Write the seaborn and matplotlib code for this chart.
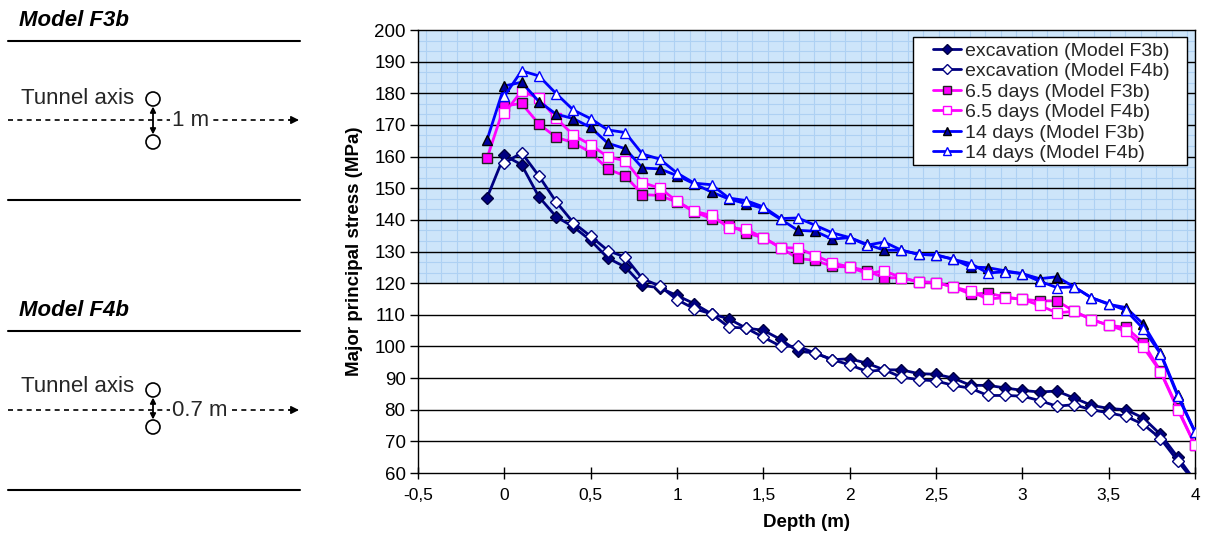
import numpy as np
import pandas as pd
import matplotlib
matplotlib.use("Agg")
import matplotlib.pyplot as plt
import seaborn as sns
from matplotlib import font_manager
from matplotlib.patches import Circle, Rectangle

# ---------------- data ----------------
depth_f3b = [-0.1, 0.0, 0.1, 0.2, 0.3, 0.4, 0.5, 0.6, 0.7, 0.8, 0.9, 1.0, 1.1, 1.2,
             1.3, 1.4, 1.5, 1.6, 1.7, 1.8, 1.9, 2.0, 2.1, 2.2, 2.3, 2.4, 2.5, 2.6,
             2.7, 2.8, 2.9, 3.0, 3.1, 3.2, 3.3, 3.4, 3.5, 3.6, 3.7, 3.8, 3.9, 4.0]
depth_f4b = depth_f3b[1:]

exc_f3b = [147.0, 160.4, 157.4, 147.3, 141.0, 137.8, 133.5, 127.9, 125.1, 119.3,
           118.5, 116.1, 113.5, 110.3, 108.7, 105.8, 105.1, 102.2, 98.5, 97.9,
           95.8, 96.1, 94.7, 92.6, 92.6, 91.4, 91.2, 90.0, 87.7, 87.7, 86.9,
           86.1, 85.6, 85.9, 83.7, 81.4, 80.4, 80.0, 77.4, 72.2, 65.0, 57.5]
exc_f4b = [157.9, 161.2, 153.9, 145.7, 139.1, 134.8, 130.3, 128.2, 121.4, 119.1,
           114.8, 111.9, 110.3, 106.1, 105.8, 102.9, 100.1, 100.0, 97.9, 95.8,
           94.2, 92.1, 92.6, 90.3, 89.5, 89.1, 87.7, 86.8, 84.5, 84.5, 84.3,
           82.9, 81.1, 81.6, 80.0, 79.0, 77.9, 75.4, 70.9, 63.8, 57.0]
d65_f3b = [159.5, 176.0, 176.8, 170.3, 166.1, 164.4, 161.3, 156.0, 153.9, 148.0,
           147.7, 145.6, 142.6, 140.3, 138.5, 135.8, 134.4, 131.2, 127.8, 127.2,
           125.3, 125.1, 123.9, 121.7, 121.7, 120.4, 120.2, 118.8, 116.5, 116.9,
           115.6, 114.9, 114.4, 114.4, 111.1, 108.5, 106.7, 106.0, 101.2, 92.2,
           80.5, 68.8]
d65_f4b = [173.7, 180.7, 178.4, 172.1, 166.8, 163.7, 159.9, 158.7, 151.8, 150.0,
           145.9, 142.7, 141.4, 137.5, 137.0, 134.4, 131.2, 131.1, 128.7, 126.4,
           125.1, 123.0, 123.9, 121.7, 120.4, 120.2, 118.8, 117.4, 115.0, 115.4,
           114.9, 113.0, 110.6, 111.1, 108.5, 106.7, 104.8, 99.8, 92.0, 80.0, 68.8]
d14_f3b = [165.3, 182.3, 183.5, 177.4, 173.4, 172.0, 169.2, 164.2, 162.5, 156.4,
           156.1, 154.0, 151.4, 148.8, 146.6, 145.1, 143.6, 140.2, 136.7, 136.4,
           133.9, 134.4, 132.3, 130.4, 130.4, 129.1, 128.8, 127.6, 125.1, 124.9,
           123.9, 123.0, 121.4, 122.0, 118.8, 115.4, 113.3, 112.3, 107.1, 98.0,
           84.8, 73.0]
d14_f4b = [179.1, 187.1, 185.5, 179.9, 174.7, 172.0, 168.4, 167.6, 160.8, 159.2,
           154.8, 151.6, 151.1, 146.9, 146.1, 144.1, 140.4, 140.6, 138.3, 135.9,
           134.4, 132.0, 133.0, 130.4, 129.1, 129.0, 127.5, 126.2, 123.2, 123.6,
           123.0, 120.6, 118.6, 118.8, 115.4, 113.5, 111.4, 105.6, 97.7, 84.3, 72.9]

labels = ["excavation (Model F3b)", "excavation (Model F4b)",
          "6.5 days (Model F3b)", "6.5 days (Model F4b)",
          "14 days (Model F3b)", "14 days (Model F4b)"]
xticks = [-0.5, 0, 0.5, 1, 1.5, 2, 2.5, 3, 3.5, 4]
xtick_labels = ["-0,5", "0", "0,5", "1", "1,5", "2", "2,5", "3", "3,5", "4"]
yticks = [60, 70, 80, 90, 100, 110, 120, 130, 140, 150, 160, 170, 180, 190, 200]

# ---------------- style ----------------
sns.set_theme(style="white")
plt.rcParams['font.family'] = ['Liberation Sans', 'DejaVu Sans']


def has_font(name):
    try:
        font_manager.findfont(font_manager.FontProperties(family=name),
                              fallback_to_default=False)
        return True
    except Exception:
        return False


narrow = 'Liberation Sans Narrow' if has_font('Liberation Sans Narrow') else 'Liberation Sans'
narrow_size = 13.5 if narrow == 'Liberation Sans Narrow' else 12.5

W, H = 1208, 544
fig = plt.figure(figsize=(W / 100, H / 100), dpi=100)

# ---------------- left schematic ----------------
ov = fig.add_axes([0, 0, 1, 1])
ov.set_xlim(0, W)
ov.set_ylim(H, 0)
ov.axis('off')


def schematic(y0, title):
    ov.text(19, y0 - 20, title, fontsize=16, fontweight='bold', fontstyle='italic',
            va='center', ha='left', color='black')
    ov.plot([8, 300], [y0, y0], color='black', lw=1.5)
    ov.plot([8, 300], [y0 + 159.5, y0 + 159.5], color='black', lw=1.5)


def tunnel(yc_text, y_c1, y_c2, y_line, dist_label):
    ov.text(21, yc_text, 'Tunnel axis', fontsize=16, va='center', ha='left')
    ov.plot([8, 291], [y_line, y_line], color='black', lw=1.2, ls=(0, (3, 2.6)))
    ov.annotate('', xy=(299, y_line), xytext=(289, y_line),
                arrowprops=dict(arrowstyle='-|>', color='black', lw=1,
                                mutation_scale=12, shrinkA=0, shrinkB=0))
    ov.text(172, y_line, dist_label, fontsize=16, va='center', ha='left',
            bbox=dict(facecolor='white', edgecolor='none', pad=1.5))
    for yc in (y_c1, y_c2):
        ov.add_patch(Circle((153, yc), 7, fill=True, fc='white', ec='black', lw=1.2, zorder=4))
    ov.annotate('', xy=(153, y_c1 + 7.5), xytext=(153, y_c2 - 7.5),
                arrowprops=dict(arrowstyle='<|-|>', color='black', lw=1.3,
                                mutation_scale=8, shrinkA=0, shrinkB=0), zorder=5)


schematic(40.7, 'Model F3b')
tunnel(98, 99, 142, 120, '1 m')
schematic(330.7, 'Model F4b')
tunnel(387, 390, 427, 410, '0.7 m')

# ---------------- main chart ----------------
ax = fig.add_axes([418 / W, 1 - 473 / H, 777 / W, 443 / H])
ax.set_facecolor('white')
ax.axhspan(120, 200, color='#cde5fa', lw=0, zorder=0)
for xv in np.arange(-0.5 + 0.045, 4.0, 0.09):
    ax.plot([xv, xv], [120, 200], color='#aed1f3', lw=0.8, zorder=0.5)
for k in range(1, 24):
    yv = 120 + k * 10 / 3
    if k % 3:
        ax.plot([-0.5, 4], [yv, yv], color='#aed1f3', lw=0.8, zorder=0.5)
for yv in yticks[1:-1]:
    ax.axhline(yv, color='black', lw=1.0, zorder=1)

series = [
    (depth_f3b, exc_f3b, labels[0], '#000080', 'D', 6.0, '#000080', '#000040'),
    (depth_f4b, exc_f4b, labels[1], '#000080', 'D', 6.0, 'white', '#000080'),
    (depth_f3b, d65_f3b, labels[2], '#ff00ff', 's', 7.0, '#ff00ff', '#222222'),
    (depth_f4b, d65_f4b, labels[3], '#ff00ff', 's', 7.0, 'white', '#ff00ff'),
    (depth_f3b, d14_f3b, labels[4], '#0000ff', '^', 7.5, '#0000a0', '#000000'),
    (depth_f4b, d14_f4b, labels[5], '#0000ff', '^', 7.5, 'white', '#0000ff'),
]
for xs, ys, lab, col, mk, ms, mfc, mec in series:
    df = pd.DataFrame({'depth': xs, 'stress': ys})
    sns.lineplot(data=df, x='depth', y='stress', ax=ax, color=col, lw=2.0,
                 marker=mk, markersize=ms, markerfacecolor=mfc,
                 markeredgecolor=mec, markeredgewidth=1.0, label=lab,
                 errorbar=None, sort=False, zorder=3)

ax.set_xlim(-0.5, 4)
ax.set_ylim(60, 200)
ax.set_xticks(xticks)
ax.set_xticklabels(xtick_labels, fontfamily=narrow, fontsize=narrow_size)
ax.set_yticks(yticks)
ax.set_yticklabels([str(v) for v in yticks], fontsize=13.5)
ax.tick_params(axis='x', direction='inout', length=9, width=1, color='black',
               bottom=True, pad=6, labelcolor='black')
ax.tick_params(axis='y', direction='out', length=6, width=1, color='black',
               left=True, pad=3, labelcolor='black')
for sp in ax.spines.values():
    sp.set_color('black')
    sp.set_linewidth(1.0)
    sp.set_visible(True)
ax.set_xlabel('Depth (m)', fontweight='bold', fontfamily=narrow, fontsize=13.5,
              color='black', labelpad=8)
ax.set_ylabel('Major principal stress (MPa)', fontweight='bold', fontsize=13.5,
              color='black', labelpad=8)
ax.grid(False)

# legend frame drawn separately so the entries can sit centred inside it
frame = Rectangle((0.637, 0.6953), 0.3526, 0.2889, transform=ax.transAxes,
                  facecolor='white', edgecolor='black', lw=1.0, zorder=4.5)
ax.add_patch(frame)
leg = ax.legend(loc='upper left', bbox_to_anchor=(0.6628, 0.973), borderaxespad=0,
                fontsize=14, frameon=False, handlelength=1.45, handletextpad=0.22,
                labelspacing=0.15, borderpad=0.0, markerscale=0.8)
leg.set_zorder(5)

fig.savefig('out.png', dpi=100)
